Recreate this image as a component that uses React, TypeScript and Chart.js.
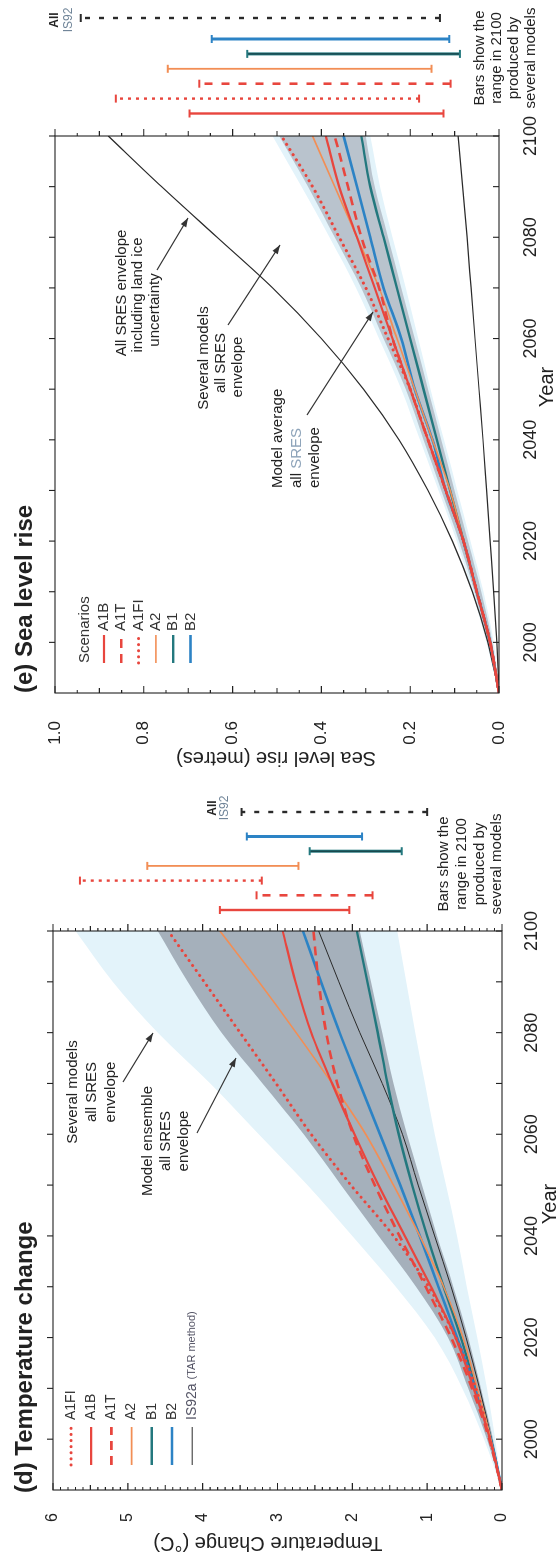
import React, { useEffect, useRef } from 'react';
import { Chart, registerables } from 'chart.js';

Chart.register(...registerables);

const FONT = '"Liberation Sans", Arial, Helvetica, sans-serif';
Chart.defaults.font.family = FONT;
Chart.defaults.color = '#222';

// ---------------- data ----------------
const years = [1990, 2000, 2010, 2020, 2030, 2040, 2050, 2060, 2070, 2080, 2090, 2100];
const yearTicks = [2000, 2020, 2040, 2060, 2080, 2100];
const tempTicks = [0, 1, 2, 3, 4, 5, 6];
const seaTicks = [0, 0.2, 0.4, 0.6, 0.8, 1.0];

// (d) temperature change (deg C)
const tempA1FI = [0, 0.16, 0.35, 0.62, 0.98, 1.45, 2.02, 2.55, 3.02, 3.5, 3.98, 4.46];
const tempA1B = [0, 0.16, 0.38, 0.62, 0.95, 1.3, 1.65, 1.97, 2.27, 2.55, 2.76, 2.93];
const tempA1T = [0, 0.17, 0.4, 0.68, 1.02, 1.37, 1.7, 1.99, 2.2, 2.35, 2.45, 2.52];
const tempA2 = [0, 0.15, 0.33, 0.52, 0.78, 1.1, 1.45, 1.82, 2.27, 2.75, 3.25, 3.77];
const tempB1 = [0, 0.15, 0.35, 0.55, 0.78, 1.0, 1.2, 1.38, 1.53, 1.66, 1.8, 1.94];
const tempB2 = [0, 0.15, 0.36, 0.6, 0.85, 1.1, 1.36, 1.63, 1.9, 2.17, 2.42, 2.66];
const tempIS92a = [0, 0.14, 0.3, 0.48, 0.68, 0.9, 1.12, 1.33, 1.6, 1.9, 2.18, 2.45];
const tempEnsHigh = [0, 0.2, 0.45, 0.72, 1.15, 1.65, 2.15, 2.65, 3.2, 3.75, 4.2, 4.6];
const tempEnsLow = [0, 0.12, 0.28, 0.45, 0.65, 0.87, 1.07, 1.27, 1.45, 1.6, 1.75, 1.9];
const tempAllHigh = [0, 0.24, 0.53, 0.9, 1.42, 2.0, 2.6, 3.25, 3.9, 4.6, 5.2, 5.7];
const tempAllLow = [0, 0.09, 0.2, 0.33, 0.47, 0.6, 0.75, 0.9, 1.03, 1.16, 1.28, 1.4];

const tempBarNames = ['A1B', 'A1T', 'A1FI', 'A2', 'B1', 'B2', 'IS92'];
const tempBarLow = [2.04, 1.73, 3.21, 2.72, 1.34, 1.87, 1.0];
const tempBarHigh = [3.77, 3.28, 5.64, 4.74, 2.57, 3.41, 3.48];

// (e) sea level rise (metres)
const seaA1B = [0, 0.02, 0.05, 0.08, 0.12, 0.16, 0.2, 0.24, 0.28, 0.32, 0.36, 0.39];
const seaA1T = [0, 0.02, 0.05, 0.08, 0.12, 0.16, 0.2, 0.24, 0.27, 0.31, 0.34, 0.37];
const seaA1FI = [0, 0.02, 0.05, 0.08, 0.12, 0.16, 0.2, 0.25, 0.3, 0.36, 0.42, 0.49];
const seaA2 = [0, 0.02, 0.05, 0.08, 0.11, 0.15, 0.19, 0.23, 0.27, 0.32, 0.37, 0.42];
const seaB1 = [0, 0.02, 0.05, 0.08, 0.11, 0.14, 0.17, 0.2, 0.23, 0.26, 0.29, 0.31];
const seaB2 = [0, 0.02, 0.05, 0.08, 0.12, 0.15, 0.19, 0.22, 0.26, 0.29, 0.32, 0.35];
const seaAvgHigh = [0, 0.025, 0.055, 0.09, 0.13, 0.17, 0.21, 0.26, 0.31, 0.37, 0.43, 0.495];
const seaAvgLow = [0, 0.015, 0.04, 0.07, 0.1, 0.13, 0.16, 0.19, 0.22, 0.25, 0.28, 0.3];
const seaModelsHigh = [0, 0.028, 0.06, 0.095, 0.136, 0.178, 0.22, 0.27, 0.322, 0.382, 0.445, 0.51];
const seaModelsLow = [0, 0.012, 0.035, 0.064, 0.094, 0.124, 0.154, 0.182, 0.21, 0.24, 0.268, 0.29];
const seaIceHigh = [0, 0.025, 0.06, 0.105, 0.16, 0.225, 0.305, 0.4, 0.51, 0.635, 0.76, 0.88];
const seaIceLow = [0, 0.005, 0.012, 0.02, 0.028, 0.036, 0.045, 0.054, 0.063, 0.072, 0.082, 0.092];

const seaBarNames = ['A1B', 'A1FI', 'A1T', 'A2', 'B1', 'B2', 'IS92'];
const seaBarLow = [0.125, 0.18, 0.109, 0.152, 0.088, 0.112, 0.133];
const seaBarHigh = [0.697, 0.863, 0.675, 0.746, 0.567, 0.647, 0.942];

// ---------------- styles ----------------
const INK = '#222';
const RED = '#e8463e';
const ORANGE = '#f28e55';
const TEAL = '#23787e';
const BLUE = '#2c83c5';
const BLACK = '#2a2a2a';

type St = { color: string; width: number; dash: number[]; cap?: CanvasLineCap; inner?: string };
const LINE_STYLE: Record<string, St> = {
  A1FI: { color: RED, width: 3, dash: [0.1, 6], cap: 'round' },
  A1B: { color: RED, width: 2.2, dash: [] },
  A1T: { color: RED, width: 2.6, dash: [9, 6] },
  A2: { color: ORANGE, width: 1.6, dash: [] },
  B1: { color: TEAL, width: 2.4, dash: [] },
  B2: { color: BLUE, width: 2.6, dash: [] },
  IS92a: { color: BLACK, width: 1, dash: [] },
  ICE: { color: BLACK, width: 1.2, dash: [] },
};
const BAR_STYLE: Record<string, St> = {
  A1FI: { color: RED, width: 2.4, dash: [3, 5] },
  A1B: { color: RED, width: 2.4, dash: [] },
  A1T: { color: RED, width: 2.6, dash: [8, 9] },
  A2: { color: ORANGE, width: 1.8, dash: [] },
  B1: { color: TEAL, width: 3, dash: [], inner: '#16343a' },
  B2: { color: BLUE, width: 3, dash: [] },
  IS92: { color: BLACK, width: 2.4, dash: [5, 9] },
};

const F = (s: number, b = false) => `${b ? 'bold ' : ''}${s}px ${FONT}`;

type Part = [string, string, string];
type TextItem = { x: number; y: number; parts: Part[]; align?: 'left' | 'center' | 'right'; rot?: number };
type Arrow = { x1: number; y1: number; x2: number; y2: number };
type LegendItem = { style: string; parts: Part[] };

interface PanelCfg {
  offset: number;
  padTop: number;
  padRight: number;
  yAxisWidth: number;
  xAxisHeight: number;
  yMax: number;
  yTicks: number[];
  yFmt: (v: number) => string;
  yTickFont: number;
  yTickPad: number;
  xTickPad: number;
  lines: { style: string; values: number[] }[];
  inner: [number[], number[], string];
  outer: [number[], number[], string];
  markStep: number;
  markMid: number;
  markMajor: number;
  bars: { names: string[]; low: number[]; high: number[]; offsets: number[] };
  legend: { x0: number; x1: number; tx: number; y0: number; dy: number; items: LegendItem[]; header?: TextItem };
  texts: TextItem[];
  arrows: Arrow[];
}

function drawTextItem(ctx: CanvasRenderingContext2D, t: TextItem) {
  ctx.save();
  ctx.translate(t.x, t.y);
  if (t.rot) ctx.rotate(t.rot);
  ctx.textBaseline = 'middle';
  ctx.textAlign = 'left';
  let total = 0;
  for (const p of t.parts) {
    ctx.font = p[2];
    total += ctx.measureText(p[0]).width;
  }
  let x = t.align === 'center' ? -total / 2 : t.align === 'right' ? -total : 0;
  for (const p of t.parts) {
    ctx.font = p[2];
    ctx.fillStyle = p[1];
    ctx.fillText(p[0], x, 0);
    x += ctx.measureText(p[0]).width;
  }
  ctx.restore();
}

function drawArrow(ctx: CanvasRenderingContext2D, a: Arrow) {
  ctx.save();
  ctx.strokeStyle = '#333';
  ctx.fillStyle = '#333';
  ctx.lineWidth = 1.2;
  ctx.setLineDash([]);
  ctx.beginPath();
  ctx.moveTo(a.x1, a.y1);
  ctx.lineTo(a.x2, a.y2);
  ctx.stroke();
  const ang = Math.atan2(a.y2 - a.y1, a.x2 - a.x1);
  const L = 9;
  const W = 3.2;
  const c = Math.cos(ang);
  const s = Math.sin(ang);
  ctx.beginPath();
  ctx.moveTo(a.x2, a.y2);
  ctx.lineTo(a.x2 - L * c + W * s, a.y2 - L * s - W * c);
  ctx.lineTo(a.x2 - L * c - W * s, a.y2 - L * s + W * c);
  ctx.closePath();
  ctx.fill();
  ctx.restore();
}

function strokeSeg(ctx: CanvasRenderingContext2D, x1: number, y1: number, x2: number, y2: number, st: St) {
  ctx.save();
  ctx.strokeStyle = st.color;
  ctx.lineWidth = st.width;
  ctx.lineCap = st.cap ?? 'butt';
  ctx.setLineDash(st.dash);
  ctx.beginPath();
  ctx.moveTo(x1, y1);
  ctx.lineTo(x2, y2);
  ctx.stroke();
  if (st.inner) {
    ctx.strokeStyle = st.inner;
    ctx.lineWidth = 1;
    ctx.setLineDash([]);
    ctx.beginPath();
    ctx.moveTo(x1, y1);
    ctx.lineTo(x2, y2);
    ctx.stroke();
  }
  ctx.restore();
}

function decoPlugin(cfg: PanelCfg) {
  return {
    id: 'deco',
    afterDraw(chart: any) {
      const ctx: CanvasRenderingContext2D = chart.ctx;
      const xs = chart.scales.x;
      const ys = chart.scales.y;
      const { left, right, top, bottom } = chart.chartArea;
      ctx.save();
      // frame
      ctx.strokeStyle = '#222';
      ctx.lineWidth = 1.1;
      ctx.setLineDash([]);
      ctx.strokeRect(left, top, right - left, bottom - top);
      // value-axis tick marks (left inward, right outward)
      const n = Math.round(cfg.yMax / cfg.markStep);
      ctx.beginPath();
      for (let k = 0; k <= n; k++) {
        const v = k * cfg.markStep;
        const py = ys.getPixelForValue(v);
        const isMaj = Math.abs(v / cfg.markMajor - Math.round(v / cfg.markMajor)) < 1e-6;
        const isMid = Math.abs(v / cfg.markMid - Math.round(v / cfg.markMid)) < 1e-6;
        const len = isMaj ? 7 : isMid ? 5 : 3;
        ctx.moveTo(left, py);
        ctx.lineTo(left + len, py);
        ctx.moveTo(right, py);
        ctx.lineTo(right + len, py);
      }
      // year tick marks (bottom inward, top outward)
      for (let yr = 2000; yr <= 2100; yr += 10) {
        const px = xs.getPixelForValue(yr);
        ctx.moveTo(px, bottom);
        ctx.lineTo(px, bottom - 6);
        ctx.moveTo(px, top);
        ctx.lineTo(px, top - 6);
      }
      ctx.stroke();

      // 2100 range bars
      const b = cfg.bars;
      b.names.forEach((name, i) => {
        const st = BAR_STYLE[name];
        const x = right + b.offsets[i];
        const y1 = ys.getPixelForValue(b.low[i]);
        const y2 = ys.getPixelForValue(b.high[i]);
        strokeSeg(ctx, x, y1, x, y2, st);
        const capSt: St = { color: name === 'B1' ? TEAL : st.color, width: 2, dash: [] };
        strokeSeg(ctx, x - 4, y1, x + 4, y1, capSt);
        strokeSeg(ctx, x - 4, y2, x + 4, y2, capSt);
      });

      // legend
      const lg = cfg.legend;
      if (lg.header) drawTextItem(ctx, lg.header);
      lg.items.forEach((it, i) => {
        const y = lg.y0 + i * lg.dy;
        strokeSeg(ctx, lg.x0, y, lg.x1, y, LINE_STYLE[it.style]);
        drawTextItem(ctx, { x: lg.tx, y, parts: it.parts });
      });

      // annotations
      cfg.texts.forEach((t) => drawTextItem(ctx, t));
      cfg.arrows.forEach((a) => drawArrow(ctx, a));
      ctx.restore();
    },
  };
}

function pts(values: number[]) {
  return years.map((x, i) => ({ x, y: values[i] }));
}

function makeConfig(cfg: PanelCfg): any {
  const datasets: any[] = [];
  for (const l of cfg.lines) {
    const st = LINE_STYLE[l.style];
    datasets.push({
      data: pts(l.values),
      borderColor: st.color,
      borderWidth: st.width,
      borderDash: st.dash,
      borderCapStyle: st.cap ?? 'butt',
      pointRadius: 0,
      fill: false,
      cubicInterpolationMode: 'monotone',
    });
  }
  const band = (vals: number[], color: string, fill: boolean) => ({
    data: pts(vals),
    borderWidth: 0,
    borderColor: 'rgba(0,0,0,0)',
    backgroundColor: color,
    pointRadius: 0,
    fill: fill ? '+1' : false,
    cubicInterpolationMode: 'monotone',
  });
  datasets.push(band(cfg.inner[0], cfg.inner[2], true), band(cfg.inner[1], cfg.inner[2], false));
  datasets.push(band(cfg.outer[0], cfg.outer[2], true), band(cfg.outer[1], cfg.outer[2], false));

  return {
    type: 'line',
    data: { datasets },
    options: {
      responsive: false,
      maintainAspectRatio: false,
      animation: false,
      events: [],
      devicePixelRatio: 1,
      layout: { padding: { top: cfg.padTop, right: cfg.padRight, left: 0, bottom: 0 } },
      plugins: { legend: { display: false }, tooltip: { enabled: false }, title: { display: false } },
      scales: {
        x: {
          type: 'linear',
          min: 1990,
          max: 2100,
          grid: { display: false },
          border: { display: false },
          afterBuildTicks: (s: any) => {
            s.ticks = yearTicks.map((value) => ({ value }));
          },
          afterFit: (s: any) => {
            s.height = cfg.xAxisHeight;
          },
          ticks: {
            font: { size: 18, family: FONT },
            color: INK,
            padding: cfg.xTickPad,
            maxRotation: 0,
            minRotation: 0,
            autoSkip: false,
            callback: (v: any) => String(v),
          },
        },
        y: {
          type: 'linear',
          min: 0,
          max: cfg.yMax,
          grid: { display: false },
          border: { display: false },
          afterBuildTicks: (s: any) => {
            s.ticks = cfg.yTicks.map((value) => ({ value }));
          },
          afterFit: (s: any) => {
            s.width = cfg.yAxisWidth;
          },
          ticks: {
            font: { size: cfg.yTickFont, family: FONT },
            color: INK,
            padding: cfg.yTickPad,
            autoSkip: false,
            callback: (v: any) => cfg.yFmt(Number(v)),
          },
        },
      },
    },
    plugins: [decoPlugin(cfg)],
  };
}

// ---------------- panels ----------------
const ROT = -Math.PI / 2;
const T = (x: number, y: number, text: string, font: string, align: 'left' | 'center' | 'right' = 'center', color = INK): TextItem => ({
  x,
  y,
  align,
  parts: [[text, color, font]],
});

const panelD: PanelCfg = {
  offset: 0,
  padTop: 53,
  padRight: 151,
  yAxisWidth: 70,
  xAxisHeight: 55,
  yMax: 6,
  yTicks: tempTicks,
  yFmt: (v) => String(Math.round(v)),
  yTickFont: 16,
  yTickPad: 15,
  xTickPad: 11,
  lines: [
    { style: 'A1FI', values: tempA1FI },
    { style: 'A1T', values: tempA1T },
    { style: 'A1B', values: tempA1B },
    { style: 'A2', values: tempA2 },
    { style: 'B2', values: tempB2 },
    { style: 'B1', values: tempB1 },
    { style: 'IS92a', values: tempIS92a },
  ],
  inner: [tempEnsHigh, tempEnsLow, '#a5b0bb'],
  outer: [tempAllHigh, tempAllLow, '#e3f3fa'],
  markStep: 0.1,
  markMid: 0.5,
  markMajor: 1,
  bars: { names: tempBarNames, low: tempBarLow, high: tempBarHigh, offsets: [21, 35.7, 50.4, 65.1, 79.8, 94.5, 119] },
  legend: {
    x0: 95,
    x1: 133,
    tx: 140,
    y0: 71,
    dy: 20.2,
    items: [
      { style: 'A1FI', parts: [['A1FI', '#333', F(14)]] },
      { style: 'A1B', parts: [['A1B', '#333', F(14)]] },
      { style: 'A1T', parts: [['A1T', '#333', F(14)]] },
      { style: 'A2', parts: [['A2', '#333', F(14)]] },
      { style: 'B1', parts: [['B1', '#333', F(14)]] },
      { style: 'B2', parts: [['B2', '#333', F(14)]] },
      { style: 'IS92a', parts: [['IS92a ', '#556', F(14)], ['(TAR method)', '#556', F(11)]] },
    ],
  },
  texts: [
    T(67, 25, '(d) Temperature change', F(24, true), 'left'),
    { x: 17, y: 268, rot: ROT, align: 'center', parts: [['Temperature Change (°C)', INK, F(20)]] },
    T(356, 550, 'Year', F(20)),
    T(468, 73, 'Several models', F(15)),
    T(468, 92, 'all SRES', F(15)),
    T(468, 111, 'envelope', F(15)),
    T(419, 148, 'Model ensemble', F(15)),
    T(419, 166, 'all SRES', F(15)),
    T(419, 184, 'envelope', F(15)),
    T(696, 444, 'Bars show the', F(15)),
    T(696, 462, 'range in 2100', F(15)),
    T(696, 480, 'produced by', F(15)),
    T(696, 497, 'several models', F(15)),
    T(752, 213, 'All', F(12, true)),
    T(752, 225, 'IS92', F(12), 'center', '#6f8498'),
  ],
  arrows: [
    { x1: 478, y1: 123, x2: 527, y2: 153 },
    { x1: 427, y1: 197, x2: 502, y2: 236 },
  ],
};

const panelE: PanelCfg = {
  offset: 780,
  padTop: 55,
  padRight: 136,
  yAxisWidth: 87,
  xAxisHeight: 58,
  yMax: 1.0,
  yTicks: seaTicks,
  yFmt: (v) => v.toFixed(1),
  yTickFont: 17,
  yTickPad: 20,
  xTickPad: 13,
  lines: [
    { style: 'A1FI', values: seaA1FI },
    { style: 'A1T', values: seaA1T },
    { style: 'A1B', values: seaA1B },
    { style: 'A2', values: seaA2 },
    { style: 'B2', values: seaB2 },
    { style: 'B1', values: seaB1 },
    { style: 'ICE', values: seaIceHigh },
    { style: 'ICE', values: seaIceLow },
  ],
  inner: [seaAvgHigh, seaAvgLow, '#b9c3cd'],
  outer: [seaModelsHigh, seaModelsLow, '#e3f3fa'],
  markStep: 0.05,
  markMid: 0.1,
  markMajor: 0.2,
  bars: { names: seaBarNames, low: seaBarLow, high: seaBarHigh, offsets: [22.5, 37.4, 52.3, 67.2, 82.1, 97, 118] },
  legend: {
    x0: 117,
    x1: 145,
    tx: 149,
    y0: 104,
    dy: 17.3,
    header: T(117, 85, 'Scenarios', F(15), 'left', '#333'),
    items: [
      { style: 'A1B', parts: [['A1B', '#333', F(15)]] },
      { style: 'A1T', parts: [['A1T', '#333', F(15)]] },
      { style: 'A1FI', parts: [['A1FI', '#333', F(15)]] },
      { style: 'A2', parts: [['A2', '#333', F(15)]] },
      { style: 'B1', parts: [['B1', '#333', F(15)]] },
      { style: 'B2', parts: [['B2', '#333', F(15)]] },
    ],
  },
  texts: [
    T(87, 25, '(e) Sea level rise', F(24, true), 'left'),
    { x: 22, y: 276, rot: ROT, align: 'center', parts: [['Sea level rise (metres)', INK, F(20)]] },
    T(393, 547, 'Year', F(20)),
    T(487, 122, 'All SRES envelope', F(15)),
    T(485, 138, 'including land ice', F(15)),
    T(470, 155, 'uncertainty', F(15)),
    T(422, 204, 'Several models', F(15)),
    T(417, 221, 'all SRES', F(15)),
    T(413, 238, 'envelope', F(15)),
    T(292, 278, 'Model average', F(15), 'left'),
    { x: 292, y: 297, align: 'left', parts: [['all ', INK, F(15)], ['SRES', '#8ea4ba', F(15)]] },
    T(292, 315, 'envelope', F(15), 'left'),
    T(722, 480, 'Bars show the', F(15)),
    T(722, 497, 'range in 2100', F(15)),
    T(722, 514, 'produced by', F(15)),
    T(722, 531, 'several models', F(15)),
    T(760, 55, 'All', F(12, true)),
    T(760, 69, 'IS92', F(12), 'center', '#6f8498'),
  ],
  arrows: [
    { x1: 510, y1: 157, x2: 562, y2: 188 },
    { x1: 455, y1: 228, x2: 535, y2: 280 },
    { x1: 365, y1: 307, x2: 468, y2: 373 },
  ],
};

function Panel({ cfg }: { cfg: PanelCfg }) {
  const ref = useRef<HTMLCanvasElement | null>(null);
  useEffect(() => {
    if (!ref.current) return;
    const chart = new Chart(ref.current, makeConfig(cfg));
    return () => chart.destroy();
  }, [cfg]);
  return (
    <canvas
      ref={ref}
      width={780}
      height={557}
      style={{ position: 'absolute', left: cfg.offset, top: 0, width: 780, height: 557, display: 'block' }}
    />
  );
}

export default function App() {
  return (
    <div style={{ position: 'absolute', left: 0, top: 0, width: 557, height: 1560, overflow: 'hidden', background: '#fff' }}>
      <div
        style={{
          position: 'absolute',
          left: 0,
          top: 0,
          width: 1560,
          height: 557,
          transformOrigin: '0 0',
          transform: 'translateY(1560px) rotate(-90deg)',
          background: '#fff',
        }}
      >
        <Panel cfg={panelD} />
        <Panel cfg={panelE} />
      </div>
    </div>
  );
}
